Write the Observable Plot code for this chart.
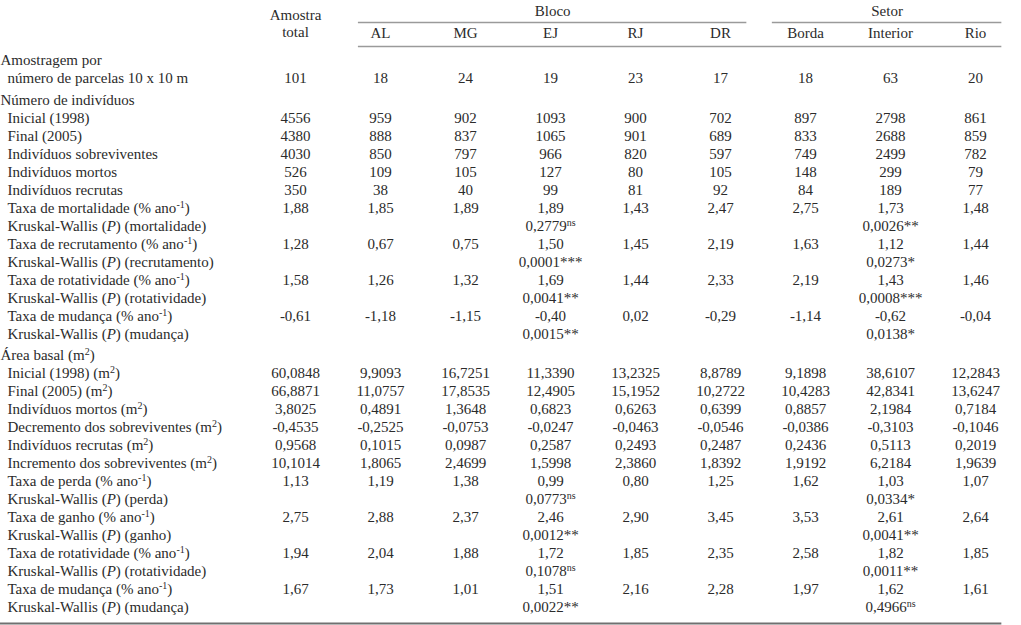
<!DOCTYPE html>
<html><head><meta charset="utf-8">
<script src="https://cdn.jsdelivr.net/npm/d3@7"></script>
<script src="https://cdn.jsdelivr.net/npm/@observablehq/plot@0.6"></script>
<style>body{margin:0;background:#fff} svg{display:block}</style>
</head><body><div id="chart"></div>
<script>
// ---- data ----
const columns = ["Amostra total","AL","MG","EJ","RJ","DR","Borda","Interior","Rio"];
const groups = [
  {name: "Bloco", from: "AL", to: "DR"},
  {name: "Setor", from: "Borda", to: "Rio"}
];
const sectionHeaders = ["Amostragem por", "Número de indivíduos", "Área basal (m^{2})"];
const rowLabels = [
  "Amostragem por",
  "número de parcelas 10 x 10 m",
  "Número de indivíduos",
  "Inicial (1998)",
  "Final (2005)",
  "Indivíduos sobreviventes",
  "Indivíduos mortos",
  "Indivíduos recrutas",
  "Taxa de mortalidade (% ano^{-1})",
  "Kruskal-Wallis (_{P}) (mortalidade)",
  "Taxa de recrutamento (% ano^{-1})",
  "Kruskal-Wallis (_{P}) (recrutamento)",
  "Taxa de rotatividade (% ano^{-1})",
  "Kruskal-Wallis (_{P}) (rotatividade)",
  "Taxa de mudança (% ano^{-1})",
  "Kruskal-Wallis (_{P}) (mudança)",
  "Área basal (m^{2})",
  "Inicial (1998) (m^{2})",
  "Final (2005) (m^{2})",
  "Indivíduos mortos (m^{2})",
  "Decremento dos sobreviventes (m^{2})",
  "Indivíduos recrutas (m^{2})",
  "Incremento dos sobreviventes (m^{2})",
  "Taxa de perda (% ano^{-1})",
  "Kruskal-Wallis (_{P}) (perda)",
  "Taxa de ganho (% ano^{-1})",
  "Kruskal-Wallis (_{P}) (ganho)",
  "Taxa de rotatividade (% ano^{-1})",
  "Kruskal-Wallis (_{P}) (rotatividade)",
  "Taxa de mudança (% ano^{-1})",
  "Kruskal-Wallis (_{P}) (mudança)"
];
const amostraTotal = ["","101","","4556","4380","4030","526","350","1,88","","1,28","","1,58","","-0,61","","","60,0848","66,8871","3,8025","-0,4535","0,9568","10,1014","1,13","","2,75","","1,94","","1,67",""];
const AL = ["","18","","959","888","850","109","38","1,85","","0,67","","1,26","","-1,18","","","9,9093","11,0757","0,4891","-0,2525","0,1015","1,8065","1,19","","2,88","","2,04","","1,73",""];
const MG = ["","24","","902","837","797","105","40","1,89","","0,75","","1,32","","-1,15","","","16,7251","17,8535","1,3648","-0,0753","0,0987","2,4699","1,38","","2,37","","1,88","","1,01",""];
const EJ = ["","19","","1093","1065","966","127","99","1,89","0,2779^{ns}","1,50","0,0001***","1,69","0,0041**","-0,40","0,0015**","","11,3390","12,4905","0,6823","-0,0247","0,2587","1,5998","0,99","0,0773^{ns}","2,46","0,0012**","1,72","0,1078^{ns}","1,51","0,0022**"];
const RJ = ["","23","","900","901","820","80","81","1,43","","1,45","","1,44","","0,02","","","13,2325","15,1952","0,6263","-0,0463","0,2493","2,3860","0,80","","2,90","","1,85","","2,16",""];
const DR = ["","17","","702","689","597","105","92","2,47","","2,19","","2,33","","-0,29","","","8,8789","10,2722","0,6399","-0,0546","0,2487","1,8392","1,25","","3,45","","2,35","","2,28",""];
const Borda = ["","18","","897","833","749","148","84","2,75","","1,63","","2,19","","-1,14","","","9,1898","10,4283","0,8857","-0,0386","0,2436","1,9192","1,62","","3,53","","2,58","","1,97",""];
const Interior = ["","63","","2798","2688","2499","299","189","1,73","0,0026**","1,12","0,0273*","1,43","0,0008***","-0,62","0,0138*","","38,6107","42,8341","2,1984","-0,3103","0,5113","6,2184","1,03","0,0334*","2,61","0,0041**","1,82","0,0011**","1,62","0,4966^{ns}"];
const Rio = ["","20","","861","859","782","79","77","1,48","","1,44","","1,46","","-0,04","","","12,2843","13,6247","0,7184","-0,1046","0,2019","1,9639","1,07","","2,64","","1,85","","1,61",""];
const columnValues = [amostraTotal, AL, MG, EJ, RJ, DR, Borda, Interior, Rio];

// ---- layout ----
const W = 1021, H = 625;
const firstColX = 295, colStep = 85;
const FONT = "'Liberation Serif','Times New Roman',serif";
const FS = 15;
const INK = "#2b2b2b";
const rowStep = 18, firstRowY = 60, sectionGap = 3.5;
const rowY = [];
rowLabels.forEach((l, i) => {
  if (i === 0) rowY.push(firstRowY);
  else rowY.push(rowY[i - 1] + rowStep + (sectionHeaders.includes(l) ? sectionGap : 0));
});
const ci = c => columns.indexOf(c);
const leftEdge = -firstColX / colStep;
const rightEdge = ci("Rio") + 0.31;

const cells = [];
columnValues.forEach((vals, c) => vals.forEach((t, r) => { if (t) cells.push({col: c, row: r, text: t}); }));
const labelRows = rowLabels.map((t, r) => ({row: r, text: t, header: sectionHeaders.includes(t)}));

const groupLines = groups.map(g => ({
  name: g.name,
  x1: ci(g.from) - (g.name === "Bloco" ? 0.26 : 0.39),
  x2: ci(g.to) + (g.name === "Bloco" ? 0.31 : 0.31)
}));
const colHeads = columns.slice(1).map(c => ({col: ci(c), text: c}));

const plot = Plot.plot({
  width: W, height: H,
  marginLeft: 0, marginRight: 0, marginTop: 0, marginBottom: 0,
  x: {type: "linear", domain: [leftEdge, (W - firstColX) / colStep], axis: null},
  y: {type: "linear", domain: [0, H], range: [0, H], axis: null},
  style: {fontFamily: FONT, color: INK, background: "#fff"},
  marks: [
    // group header lines
    Plot.ruleY(groupLines, {y: 22, x1: "x1", x2: "x2", stroke: "#9a9a9a", strokeWidth: 1.4}),
    Plot.ruleY([46], {x1: groupLines[0].x1, x2: rightEdge, stroke: "#9a9a9a", strokeWidth: 1.4}),
    Plot.ruleY([623], {x1: leftEdge, x2: rightEdge, stroke: "#707070", strokeWidth: 2}),
    // headers
    Plot.text(groupLines, {x: d => (d.x1 + d.x2) / 2, y: 11, text: "name", fontSize: FS, fill: INK}),
    Plot.text(colHeads, {x: "col", y: 33, text: "text", fontSize: FS, fill: INK}),
    Plot.text(["Amostra"], {x: ci("Amostra total"), y: 15, text: d => d, fontSize: FS, fill: INK}),
    Plot.text(["total"], {x: ci("Amostra total"), y: 32, text: d => d, fontSize: FS, fill: INK}),
    // row labels
    Plot.text(labelRows.filter(d => d.header), {y: d => rowY[d.row], text: "text", frameAnchor: "left", textAnchor: "start", dx: 0, fontSize: FS, fill: INK}),
    Plot.text(labelRows.filter(d => !d.header), {y: d => rowY[d.row], text: "text", frameAnchor: "left", textAnchor: "start", dx: 7, fontSize: FS, fill: INK}),
    // cell values
    Plot.text(cells, {x: "col", y: d => rowY[d.row], text: "text", textAnchor: "middle", fontSize: FS, fill: INK})
  ]
});

// rich-text post-processing: ^{..} superscript, _{..} italic
const NS = "http://www.w3.org/2000/svg";
plot.querySelectorAll("text").forEach(t => {
  const s = t.textContent;
  if (!/\^\{|_\{/.test(s)) return;
  while (t.firstChild) t.removeChild(t.firstChild);
  const re = /\^\{([^}]*)\}|_\{([^}]*)\}/g;
  let last = 0, m, raised = false;
  const add = (txt, opts) => {
    const sp = document.createElementNS(NS, "tspan");
    sp.textContent = txt;
    if (opts.sup) { sp.setAttribute("dy", "-5"); sp.setAttribute("font-size", "10"); }
    else if (raised) sp.setAttribute("dy", "5");
    if (opts.it) sp.setAttribute("font-style", "italic");
    t.appendChild(sp);
    raised = !!opts.sup;
  };
  while ((m = re.exec(s))) {
    if (m.index > last) add(s.slice(last, m.index), {});
    if (m[1] !== undefined) add(m[1], {sup: true});
    else add(m[2], {it: true});
    last = re.lastIndex;
  }
  if (last < s.length) add(s.slice(last), {});
});

document.getElementById("chart").appendChild(plot);
</script>
</body></html>
